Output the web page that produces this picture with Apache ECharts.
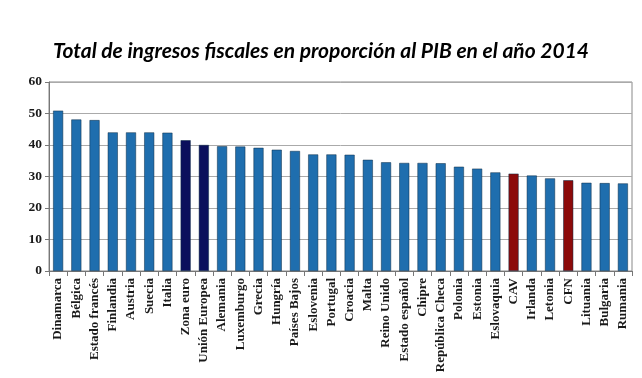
<!DOCTYPE html>
<html><head><meta charset="utf-8">
<script src="https://cdn.jsdelivr.net/npm/echarts@6/dist/echarts.min.js"></script>
<style>html,body{margin:0;padding:0;background:#fff}#c{width:642px;height:378px}</style>
</head><body><div id="c"></div>
<script>
const categories = ["Dinamarca","Bélgica","Estado francés","Finlandia","Austria","Suecia","Italia","Zona euro","Unión Europea","Alemania","Luxemburgo","Grecia","Hungría","Países Bajos","Eslovenia","Portugal","Croacia","Malta","Reino Unido","Estado español","Chipre","República Checa","Polonia","Estonia","Eslovaquia","CAV","Irlanda","Letonia","CFN","Lituania","Bulgaria","Rumania"];
const values = [50.9,48.1,47.9,44.0,44.0,44.0,43.9,41.5,40.0,39.6,39.5,39.1,38.5,38.1,37.0,37.0,36.9,35.3,34.5,34.3,34.3,34.2,33.1,32.5,31.3,30.9,30.3,29.4,28.8,28.0,27.9,27.8];
const aggregates = ["Zona euro","Unión Europea"];
const basque = ["CAV","CFN"];
const yTicks = [0,10,20,30,40,50,60];

const colorFor = c => aggregates.includes(c) ? '#0b0f5c' : (basque.includes(c) ? '#8c0a0a' : '#1f6eae');
const chart = echarts.init(document.getElementById('c'));
chart.setOption({
  animation:false,
  title:{text:'Total de ingresos fiscales en proporción al PIB en el año 2014',left:'center',top:36,
    textStyle:{fontFamily:'Lato',fontStyle:'italic',fontWeight:'bold',fontSize:21,color:'#000'}},
  grid:{left:49,right:10,top:82,bottom:107,show:true,borderColor:'#888',borderWidth:1,backgroundColor:'transparent'},
  xAxis:{type:'category',data:categories,
    axisLine:{lineStyle:{color:'#777'}},
    axisTick:{show:true,interval:0,length:5,lineStyle:{color:'#777'}},
    axisLabel:{interval:0,rotate:90,fontFamily:'Liberation Serif',fontWeight:'bold',fontSize:13,color:'#1a1a1a',margin:7}},
  yAxis:{type:'value',min:yTicks[0],max:yTicks[yTicks.length-1],interval:10,
    axisLine:{show:true,lineStyle:{color:'#777'}},
    axisTick:{show:true,length:4,lineStyle:{color:'#777'}},
    axisLabel:{fontFamily:'Liberation Serif',fontWeight:'bold',fontSize:13.5,color:'#1a1a1a',margin:7},
    splitLine:{lineStyle:{color:'#aaa'}}},
  series:[{type:'bar',barWidth:10,
    data:categories.map((c,i)=>({value:values[i],itemStyle:{color:colorFor(c),borderColor:'#0a2a44',borderWidth:0.5}}))}]
});
</script></body></html>
